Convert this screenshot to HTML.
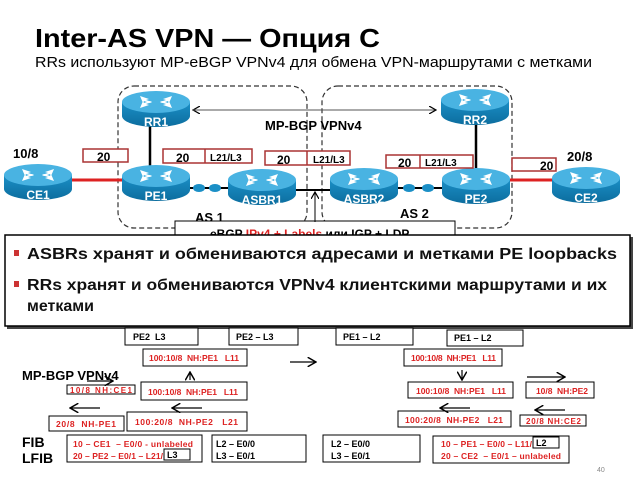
<!DOCTYPE html>
<html><head><meta charset="utf-8"><style>
html,body{margin:0;padding:0;background:#fff;width:638px;height:479px;overflow:hidden}
svg{display:block}
text{font-family:"Liberation Sans","DejaVu Sans",sans-serif;white-space:pre}
</style></head><body>
<svg width="638" height="479" viewBox="0 0 638 479" xmlns="http://www.w3.org/2000/svg">
<defs>
<linearGradient id="body" x1="0" x2="0" y1="0" y2="1"><stop offset="0" stop-color="#1b8fc6"/><stop offset="1" stop-color="#0c6d9e"/></linearGradient>
<g id="rt">
<path d="M0 12 L0 26 A34 11 0 0 0 68 26 L68 12 Z" fill="url(#body)"/>
<ellipse cx="34" cy="12" rx="34" ry="11" fill="#49b3e2"/>
<g fill="#fff"><path d="M18 6 l9 3 -3 1 6 2 -2 1 -6 -2 -1 2z"/><path d="M50 6 l-9 3 3 1 -6 2 2 1 6 -2 1 2z"/><path d="M18 18 l9 -3 -3 -1 6 -2 -2 -1 -6 2 -1 -2z"/><path d="M50 18 l-9 -3 3 -1 -6 -2 2 -1 6 2 1 -2z"/></g>
</g>
<marker id="ah" markerWidth="8" markerHeight="8" refX="7" refY="4" orient="auto"><path d="M0 0 L7 4 L0 8" fill="none" stroke="#000" stroke-width="1.2"/></marker>
</defs>
<text x="35" y="47" font-size="26" font-weight="bold" textLength="345" lengthAdjust="spacingAndGlyphs">Inter-AS VPN — Опция C</text>
<text x="35" y="67" font-size="15" textLength="557" lengthAdjust="spacingAndGlyphs">RRs используют MP-eBGP VPNv4 для обмена VPN-маршрутами с метками</text>
<rect x="118" y="86" width="189" height="142" rx="16" fill="none" stroke="#333" stroke-dasharray="5,3" stroke-width="1.2"/>
<rect x="322" y="86" width="190" height="142" rx="16" fill="none" stroke="#333" stroke-dasharray="5,3" stroke-width="1.2"/>
<line x1="436" y1="110" x2="193" y2="110" stroke="#555" marker-end="url(#ah)"/>
<line x1="193" y1="110" x2="436" y2="110" stroke="#555" marker-end="url(#ah)"/>
<text x="265" y="130" font-size="13" font-weight="bold">MP-BGP VPNv4</text>
<line x1="150" y1="120" x2="150" y2="170" stroke="#000" stroke-width="2.5"/>
<line x1="476" y1="120" x2="476" y2="170" stroke="#000" stroke-width="2.5"/>
<line x1="72" y1="180" x2="122" y2="180" stroke="#d22" stroke-width="3"/>
<line x1="510" y1="180" x2="552" y2="180" stroke="#d22" stroke-width="3"/>
<line x1="188" y1="188" x2="230" y2="188" stroke="#000" stroke-width="2"/>
<line x1="296" y1="190" x2="332" y2="190" stroke="#000" stroke-width="2"/>
<line x1="396" y1="188" x2="444" y2="188" stroke="#000" stroke-width="2"/>
<g fill="#1b8fc6"><ellipse cx="199" cy="188" rx="6" ry="4"/><ellipse cx="215" cy="188" rx="6" ry="4"/><ellipse cx="409" cy="188" rx="6" ry="4"/><ellipse cx="428" cy="188" rx="6" ry="4"/></g>
<use href="#rt" x="122" y="90"/><use href="#rt" x="441" y="88"/>
<use href="#rt" x="4" y="163"/><use href="#rt" x="122" y="164"/>
<use href="#rt" x="228" y="168"/><use href="#rt" x="330" y="167"/>
<use href="#rt" x="442" y="167"/><use href="#rt" x="552" y="166"/>
<g fill="#fff" font-size="12" font-weight="bold" text-anchor="middle">
<text x="156" y="126">RR1</text><text x="475" y="124">RR2</text>
<text x="38" y="199">CE1</text><text x="156" y="200">PE1</text>
<text x="262" y="204">ASBR1</text><text x="364" y="203">ASBR2</text>
<text x="476" y="203">PE2</text><text x="586" y="202">CE2</text>
</g>
<text x="13" y="158" font-size="13" font-weight="bold">10/8</text>
<text x="567" y="161" font-size="13" font-weight="bold">20/8</text>
<g fill="#fff" stroke="#a33" stroke-width="1.5">
<rect x="83" y="149" width="45" height="13"/>
<rect x="163" y="149" width="89" height="14"/><line x1="205" y1="149" x2="205" y2="163"/>
<rect x="265" y="151" width="85" height="14"/><line x1="307" y1="151" x2="307" y2="165"/>
<rect x="386" y="155" width="87" height="13"/><line x1="420" y1="155" x2="420" y2="168"/>
<rect x="512" y="158" width="44" height="13"/>
</g>
<g font-size="12" font-weight="bold">
<text x="97" y="161">20</text><text x="176" y="162">20</text><text x="277" y="164">20</text><text x="398" y="167">20</text><text x="540" y="170">20</text>
</g>
<g font-size="10" font-weight="bold">
<text x="210" y="161">L21/L3</text><text x="313" y="163">L21/L3</text><text x="425" y="166">L21/L3</text>
</g>
<text x="195" y="222" font-size="13" font-weight="bold">AS 1</text>
<text x="400" y="218" font-size="13" font-weight="bold">AS 2</text>
<rect x="175" y="221" width="280" height="22" fill="#fff" stroke="#000"/>
<text x="210" y="238" font-size="12" font-weight="bold">eBGP <tspan fill="#d22">IPv4 + Labels</tspan> или IGP + LDP</text>
<line x1="315" y1="222" x2="315" y2="192" stroke="#000" marker-end="url(#ah)"/>
<rect x="7" y="237" width="626" height="92" fill="#444"/>
<rect x="5" y="235" width="625" height="91" fill="#fff" stroke="#000" stroke-width="1.5"/>
<rect x="14" y="250" width="5" height="6" fill="#c33"/>
<rect x="14" y="281" width="5" height="6" fill="#c33"/>
<g font-size="16" font-weight="bold" fill="#111">
<text x="27" y="259" textLength="590" lengthAdjust="spacingAndGlyphs">ASBRs хранят и обмениваются адресами и метками PE loopbacks</text>
<text x="27" y="290" textLength="580" lengthAdjust="spacingAndGlyphs">RRs хранят и обмениваются VPNv4 клиентскими маршрутами и их</text>
<text x="27" y="311">метками</text>
</g>
<g fill="#fff" stroke="#000" stroke-width="1">
<rect x="125" y="328" width="73" height="17"/><rect x="229" y="328" width="69" height="17"/>
<rect x="336" y="328" width="77" height="17"/><rect x="447" y="330" width="76" height="16"/>
<rect x="143" y="349" width="104" height="17"/><rect x="404" y="349" width="98" height="17"/>
<rect x="67" y="385" width="68" height="9"/><rect x="141" y="382" width="106" height="18"/>
<rect x="408" y="382" width="105" height="16"/><rect x="526" y="382" width="68" height="16"/>
<rect x="49" y="416" width="75" height="15"/><rect x="127" y="412" width="120" height="19"/>
<rect x="398" y="411" width="113" height="16"/><rect x="520" y="415" width="66" height="11"/>
<rect x="67" y="435" width="135" height="27"/><rect x="212" y="435" width="94" height="27"/>
<rect x="323" y="435" width="97" height="27"/><rect x="433" y="436" width="136" height="27"/>
<rect x="164" y="449" width="26" height="11"/><rect x="533" y="437" width="26" height="11"/>
</g>
<g font-size="9" font-weight="bold">
<text x="133" y="340">PE2  L3</text><text x="236" y="340">PE2 – L3</text>
<text x="343" y="340">PE1 – L2</text><text x="454" y="341">PE1 – L2</text>
<text x="216" y="447">L2 – E0/0</text><text x="216" y="459">L3 – E0/1</text>
<text x="331" y="447">L2 – E0/0</text><text x="331" y="459">L3 – E0/1</text>
</g>
<g font-size="8.5" font-weight="bold" fill="#d22">
<text x="149" y="361" textLength="90">100:10/8  NH:PE1   L11</text>
<text x="411" y="361" textLength="85">100:10/8  NH:PE1   L11</text>
<text x="70" y="393" font-size="8" textLength="62">10/8 NH:CE1</text>
<text x="148" y="395" textLength="90">100:10/8  NH:PE1   L11</text>
<text x="416" y="394" textLength="90">100:10/8  NH:PE1   L11</text>
<text x="536" y="394" textLength="52">10/8  NH:PE2</text>
<text x="56" y="427" textLength="60">20/8  NH-PE1</text>
<text x="135" y="425" textLength="103">100:20/8  NH-PE2   L21</text>
<text x="405" y="423" textLength="98">100:20/8  NH-PE2   L21</text>
<text x="526" y="424" font-size="8" textLength="55">20/8 NH:CE2</text>
<text x="73" y="447" textLength="120">10 – CE1  – E0/0 - unlabeled</text>
<text x="73" y="459" textLength="90">20 – PE2 – E0/1 – L21/</text>
<text x="441" y="447" textLength="91">10 – PE1 – E0/0 – L11/</text>
<text x="441" y="459" textLength="120">20 – CE2  – E0/1 – unlabeled</text>
</g>
<g font-size="9" font-weight="bold"><text x="167" y="458">L3</text><text x="536" y="446">L2</text></g>
<text x="22" y="380" font-size="13" font-weight="bold">MP-BGP VPNv4</text>
<text x="22" y="447" font-size="14" font-weight="bold">FIB</text>
<text x="22" y="463" font-size="14" font-weight="bold">LFIB</text>
<text x="597" y="472" font-size="7" fill="#888">40</text>
<g stroke="#000" stroke-width="1.2" marker-end="url(#ah)">
<line x1="290" y1="362" x2="316" y2="362"/>
<line x1="87" y1="381" x2="113" y2="381"/>
<line x1="190" y1="380" x2="190" y2="372"/>
<line x1="462" y1="370" x2="462" y2="380"/>
<line x1="527" y1="377" x2="565" y2="377"/>
<line x1="100" y1="408" x2="70" y2="408"/>
<line x1="202" y1="408" x2="172" y2="408"/>
<line x1="470" y1="408" x2="440" y2="408"/>
<line x1="565" y1="410" x2="535" y2="410"/>
</g>
</svg>
</body></html>
